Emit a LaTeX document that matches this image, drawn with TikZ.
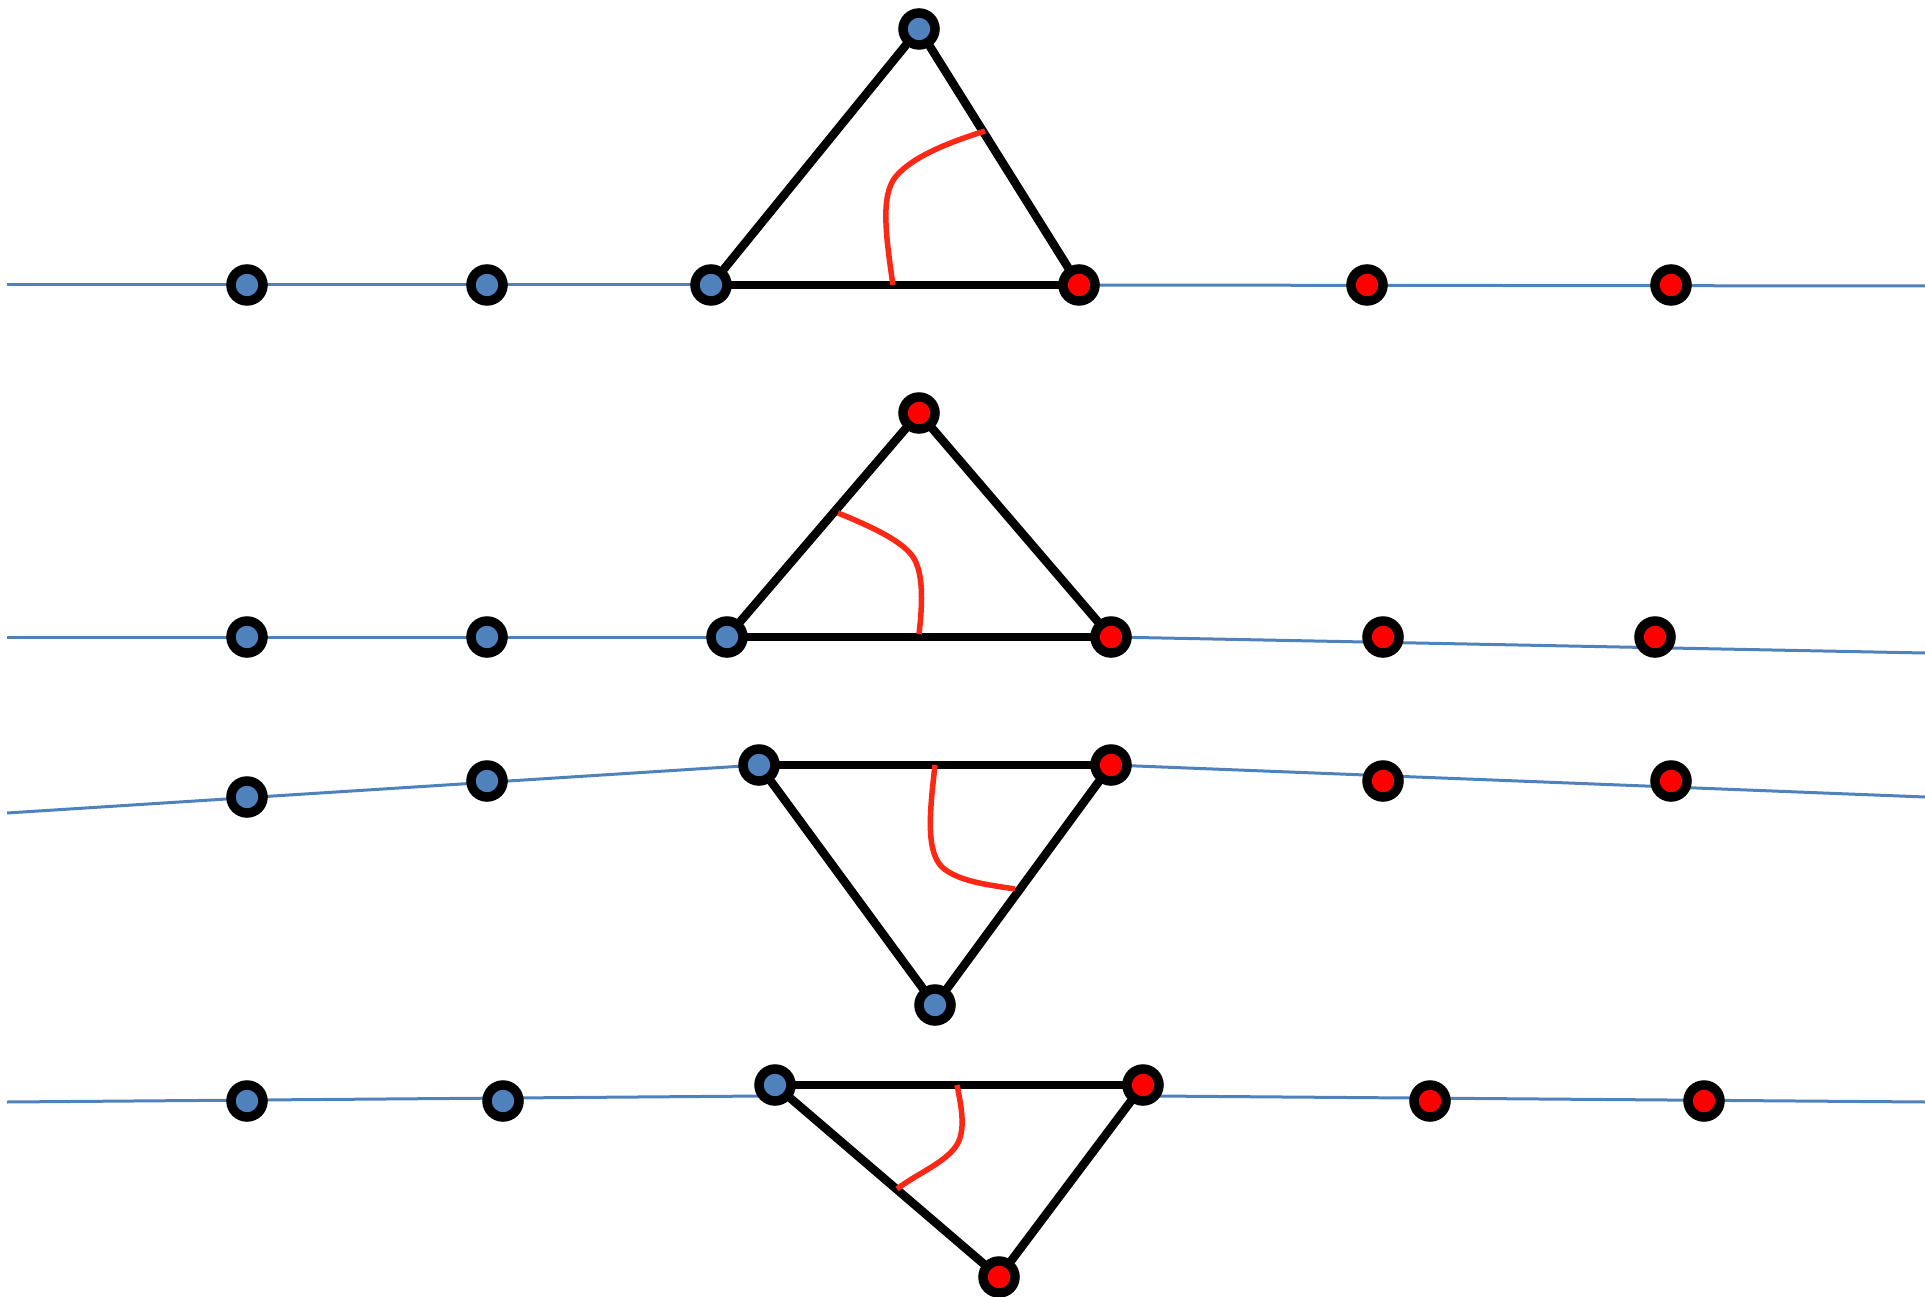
\documentclass[tikz,border=0pt]{standalone}
\usetikzlibrary{backgrounds}
\definecolor{nodeblue}{RGB}{79,129,189}
\definecolor{nodered}{RGB}{255,0,0}
\definecolor{arcred}{RGB}{250,40,20}
\tikzset{
  bnode/.style={circle,draw=black,line width=9.5pt,fill=nodeblue,minimum size=32pt,inner sep=0pt},
  rnode/.style={circle,draw=black,line width=9.5pt,fill=nodered,minimum size=32pt,inner sep=0pt},
  chain/.style={draw=nodeblue,line width=3pt},
  edge/.style={draw=black,line width=8.5pt,line cap=round},
  angle/.style={draw=arcred,line width=5.5pt}
}
\begin{document}
\begin{tikzpicture}[x=1pt,y=-1pt]
\useasboundingbox (0,0) rectangle (1925,1297);
% ---------- row 1 ----------
\node[bnode] (a1) at (247,285) {};
\node[bnode] (a2) at (487,285) {};
\node[bnode] (a3) at (711,285) {};
\node[rnode] (a4) at (1079,285) {};
\node[rnode] (a5) at (1367,285) {};
\node[rnode] (a6) at (1671,285) {};
\node[bnode] (at) at (919,29) {};
\coordinate (aL) at (7,285);
\coordinate (aR) at (1925,286);
% ---------- row 2 ----------
\node[bnode] (b1) at (247,637) {};
\node[bnode] (b2) at (487,637) {};
\node[bnode] (b3) at (727,637) {};
\node[rnode] (b4) at (1111,637) {};
\node[rnode] (b5) at (1383,637) {};
\node[rnode] (b6) at (1655,637) {};
\node[rnode] (bt) at (919,413) {};
\coordinate (bL) at (7,637);
\coordinate (bR) at (1925,653);
% ---------- row 3 ----------
\node[bnode] (c1) at (247,797) {};
\node[bnode] (c2) at (487,781) {};
\node[bnode] (c3) at (759,765) {};
\node[rnode] (c4) at (1111,765) {};
\node[rnode] (c5) at (1383,781) {};
\node[rnode] (c6) at (1671,781) {};
\node[bnode] (ct) at (935,1005) {};
\coordinate (cL) at (7,813);
\coordinate (cR) at (1925,797);
% ---------- row 4 ----------
\node[bnode] (d1) at (247,1101) {};
\node[bnode] (d2) at (503,1101) {};
\node[bnode] (d3) at (775,1085) {};
\node[rnode] (d4) at (1143,1085) {};
\node[rnode] (d5) at (1430,1101) {};
\node[rnode] (d6) at (1704,1101) {};
\node[rnode] (dt) at (999,1277) {};
\coordinate (dL) at (7,1102);
\coordinate (dLe) at (763,1096);
\coordinate (dRs) at (1155,1096);
\coordinate (dR) at (1925,1102);
\begin{pgfonlayer}{background}
% chains
\draw[chain] (aL) -- (a3.center);
\draw[chain] (a4.center) -- (aR);
\draw[chain] (bL) -- (b3.center);
\draw[chain] (b4.center) -- (bR);
\draw[chain] (cL) -- (c3.center);
\draw[chain] (c4.center) -- (cR);
\draw[chain] (dL) -- (dLe);
\draw[chain] (dRs) -- (dR);
% triangles
\draw[edge] (a3) -- (a4);
\draw[edge] (a3) -- (at);
\draw[edge] (at) -- (a4);
\draw[edge] (b3) -- (b4);
\draw[edge] (b3) -- (bt);
\draw[edge] (bt) -- (b4);
\draw[edge] (c3) -- (c4);
\draw[edge] (c3) -- (ct);
\draw[edge] (ct) -- (c4);
\draw[edge] (d3) -- (d4);
\draw[edge] (d3) -- (dt);
\draw[edge] (dt) -- (d4);
% angle marks
\draw[angle] (893,285) .. controls (884,225) and (881,190) .. (899,173) .. controls (917,155) and (950,142) .. (985,131);
\draw[angle] (838,513) .. controls (875,528) and (903,542) .. (913,557) .. controls (923,572) and (923,600) .. (919,634);
\draw[angle] (935,765) .. controls (930,810) and (925,852) .. (943,868) .. controls (960,882) and (990,885) .. (1015,889);
\draw[angle] (957,1085) .. controls (962,1110) and (967,1135) .. (953,1150) .. controls (940,1165) and (915,1175) .. (897,1189);
\end{pgfonlayer}
\end{tikzpicture}
\end{document}
